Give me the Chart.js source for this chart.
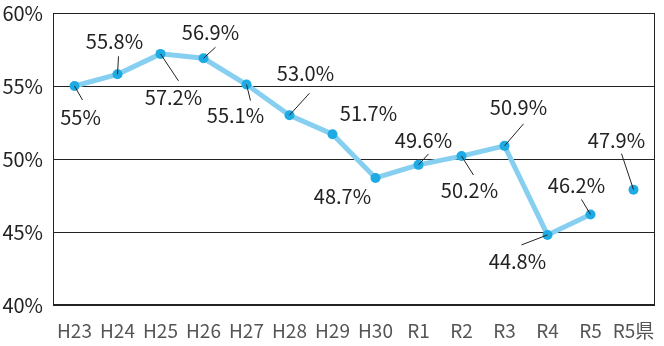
<!DOCTYPE html>
<html lang="ja">
<head>
<meta charset="utf-8">
<script src="https://cdn.jsdelivr.net/npm/chart.js@4/dist/chart.umd.min.js"></script>
<style>
  html, body { margin: 0; padding: 0; background: #fff; }
  #wrap { width: 664px; height: 346px; }
</style>
</head>
<body>
<div id="wrap"><canvas id="rateChart"></canvas></div>
<script>
// 年度ラベルと割合(%)
const years = ['H23', 'H24', 'H25', 'H26', 'H27', 'H28', 'H29', 'H30', 'R1', 'R2', 'R3', 'R4', 'R5', 'R5県'];
const rates = [55.0, 55.8, 57.2, 56.9, 55.1, 53.0, 51.7, 48.7, 49.6, 50.2, 50.9, 44.8, 46.2, 47.9];
const labelText = ['55%', '55.8%', '57.2%', '56.9%', '55.1%', '53.0%', '51.7%', '48.7%', '49.6%', '50.2%', '50.9%', '44.8%', '46.2%', '47.9%'];
const yTicks = [40, 45, 50, 55, 60];

// ラベル位置(点からのずれ)と引き出し線の先端
const labelPos = [
  [6, 31], [-3, -33], [13, 44], [7, -26], [-11, 31], [16, -42], [36, -21],
  [-33, 18], [5, -24], [8, 34], [14, -38], [-30, 26], [-14, -29], [-17, -49]
];
const leaderEnd = [
  [8, 14], [1, -18], [18, 27], [12, -11], [4, 16], [20, -22], null,
  null, [10, -11], [12, 19], [19, -22], [-26, 10], [-9, -15], [-12, -36]
];

const FONT = '"Noto Sans CJK JP", "Noto Sans", sans-serif';

// 外枠
const frame = {
  id: 'frame',
  beforeDatasetsDraw(chart) {
    const { ctx, chartArea: a } = chart;
    ctx.save();
    ctx.strokeStyle = '#222';
    ctx.lineWidth = 1;
    ctx.strokeRect(a.left + 0.5, a.top + 0.5, a.right - a.left - 1, a.bottom - a.top - 1);
    ctx.restore();
  }
};

// 値ラベルと引き出し線
const valueLabels = {
  id: 'valueLabels',
  afterDatasetsDraw(chart) {
    const { ctx } = chart;
    const pts = chart.getDatasetMeta(0).data;
    ctx.save();
    ctx.strokeStyle = '#222';
    ctx.lineWidth = 1;
    ctx.fillStyle = '#222';
    ctx.font = '20px ' + FONT;
    ctx.textAlign = 'center';
    ctx.textBaseline = 'middle';
    pts.forEach((p, i) => {
      const end = leaderEnd[i];
      if (end) {
        ctx.beginPath();
        ctx.moveTo(p.x, p.y);
        ctx.lineTo(p.x + end[0], p.y + end[1]);
        ctx.stroke();
      }
      ctx.fillText(labelText[i], p.x + labelPos[i][0], p.y + labelPos[i][1]);
    });
    ctx.restore();
  }
};

new Chart(document.getElementById('rateChart'), {
  type: 'line',
  data: {
    labels: years,
    datasets: [{
      data: rates,
      borderColor: '#86cff0',
      borderWidth: 5,
      pointRadius: 5,
      pointHoverRadius: 5,
      pointBackgroundColor: '#1eaae2',
      pointBorderWidth: 0,
      tension: 0,
      // 県の値は線でつながない
      segment: {
        borderColor: c => c.p1DataIndex === years.length - 1 ? 'rgba(0,0,0,0)' : '#86cff0'
      }
    }]
  },
  options: {
    responsive: true,
    maintainAspectRatio: false,
    animation: false,
    layout: { padding: { top: 13, right: 9, left: 0, bottom: 0 } },
    plugins: {
      legend: { display: false },
      tooltip: { enabled: false }
    },
    scales: {
      x: {
        offset: true,
        grid: { display: false },
        border: { display: false },
        ticks: { color: '#555', font: { family: FONT, size: 19 }, padding: 6, maxRotation: 0, autoSkip: false },
        afterFit: s => { s.height = 41; }
      },
      y: {
        min: 40,
        max: 60,
        afterBuildTicks: s => { s.ticks = yTicks.map(v => ({ value: v })); },
        grid: { color: '#222', lineWidth: 1, drawTicks: false },
        border: { display: false },
        ticks: { color: '#222', font: { family: FONT, size: 20 }, padding: 10, callback: v => v + '%' },
        afterFit: s => {
          s.width = 53;
          s.paddingTop = 0;
          s.paddingBottom = 0;
        }
      }
    }
  },
  plugins: [frame, valueLabels]
});
</script>
</body>
</html>
